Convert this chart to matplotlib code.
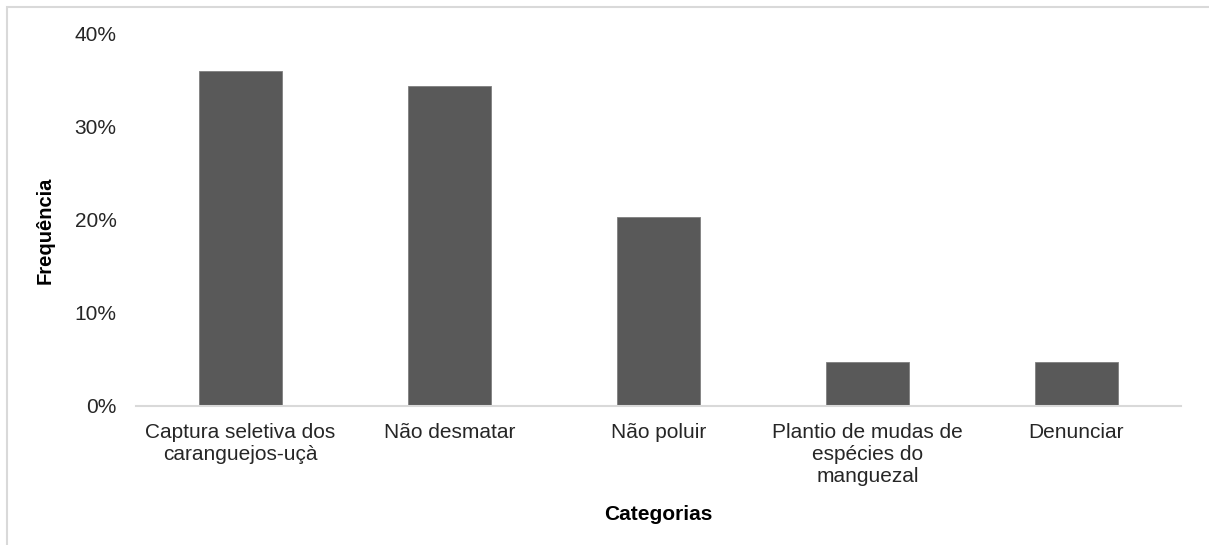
import matplotlib
matplotlib.use("Agg")
import matplotlib.pyplot as plt
from matplotlib.patches import Rectangle
from matplotlib.ticker import FuncFormatter

categories = [
    "Captura seletiva dos\ncaranguejos-uçà",
    "Não desmatar",
    "Não poluir",
    "Plantio de mudas de\nespécies do\nmanguezal",
    "Denunciar",
]
frequencies = [36.0, 34.4, 20.3, 4.7, 4.7]
y_ticks = [0, 10, 20, 30, 40]

plt.rcParams["font.family"] = ["Liberation Sans", "DejaVu Sans"]

W, H = 1209, 545
fig = plt.figure(figsize=(W / 100, H / 100), dpi=100)
ax = fig.add_axes([136 / W, (H - 405.7) / H, 1045 / W, (405.7 - 34) / H])

x = range(len(categories))
ax.bar(x, frequencies, width=0.4, color="#595959", edgecolor="#7f7f7f", linewidth=0.6)

ax.set_xlim(-0.5, len(categories) - 0.5)
ax.set_ylim(0, 40)
ax.set_yticks(y_ticks)
ax.yaxis.set_major_formatter(FuncFormatter(lambda v, _: f"{v:.0f}%"))
ax.set_xticks(list(x))
ax.set_xticklabels(categories, linespacing=1.2, va="top")

ax.tick_params(axis="y", length=0, pad=14, labelsize=15, labelcolor="#262626")
ax.tick_params(axis="x", length=0, pad=12.5, labelsize=15, labelcolor="#262626")

for side in ["top", "right", "left"]:
    ax.spines[side].set_visible(False)
ax.spines["bottom"].set_color("#d9d9d9")
ax.spines["bottom"].set_linewidth(1.5)

fig.text(45 / W, 1 - 230 / H, "Frequência", rotation=90, ha="center", va="center",
         fontsize=14.5, fontweight="bold", color="#000000")
fig.text(658 / W, 1 - 515 / H, "Categorias", ha="center", va="center",
         fontsize=15, fontweight="bold", color="#000000")

# outer chart frame (only left and top edges fall inside the image)
frame = Rectangle((7 / W, -0.5), 2.0, (H - 7) / H + 0.5, transform=fig.transFigure,
                  fill=False, edgecolor="#d9d9d9", linewidth=1.5)
fig.patches.append(frame)

fig.savefig("out.png", dpi=100)
